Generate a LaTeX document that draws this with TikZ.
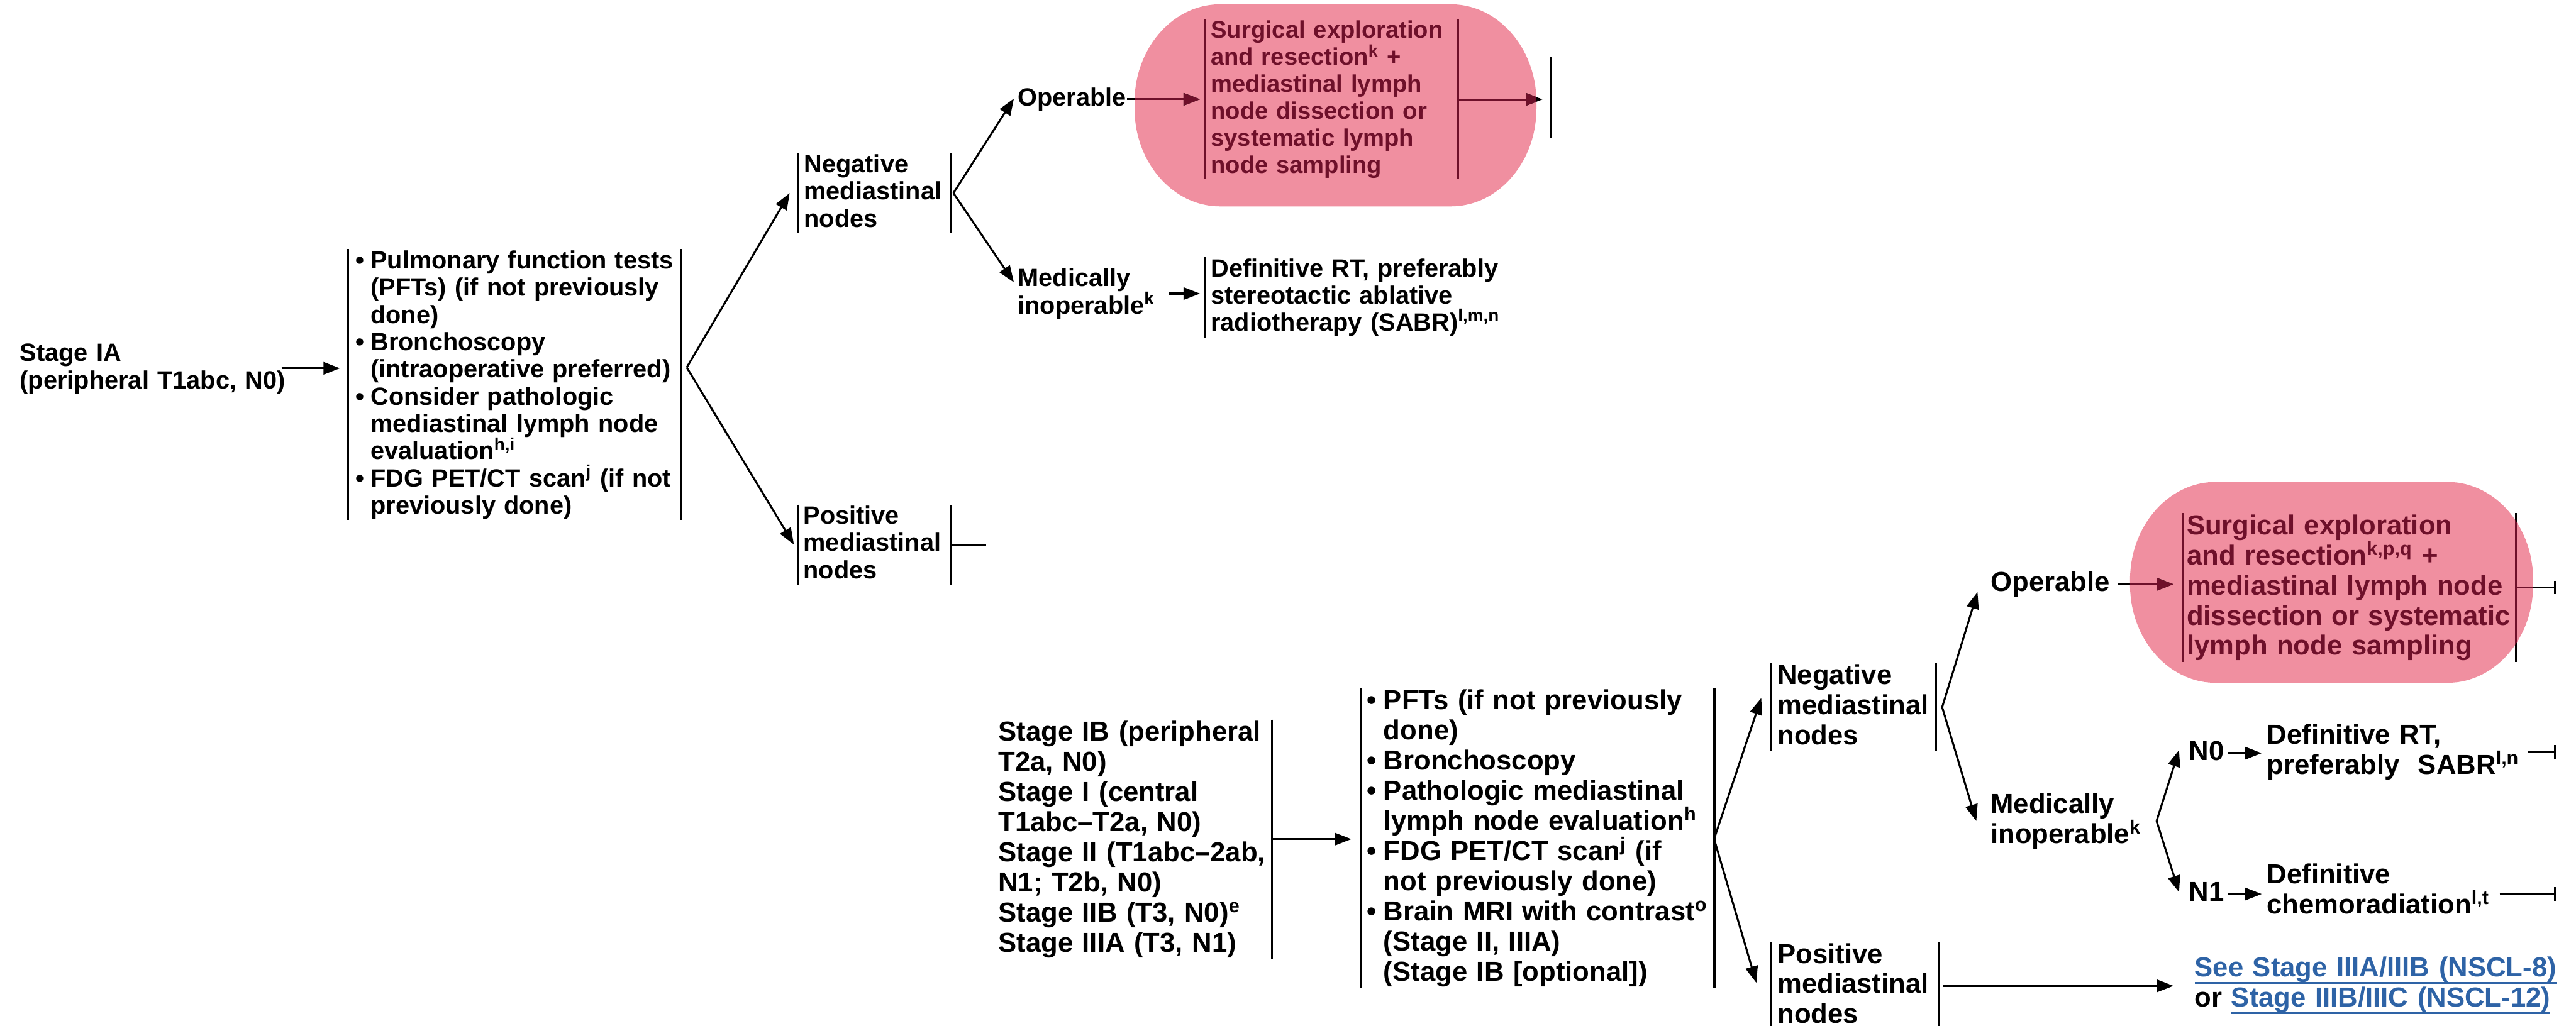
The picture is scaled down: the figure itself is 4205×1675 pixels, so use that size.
\documentclass[tikz,border=0pt]{standalone}
\usepackage{fontspec}
\setmainfont{Liberation Sans}
\usetikzlibrary{arrows.meta,calc}
\definecolor{PillClr}{RGB}{240,143,160}
\definecolor{DarkClr}{RGB}{110,16,42}
\definecolor{LinkClr}{RGB}{46,99,166}
\newcommand{\topsz}{\fontsize{11.6pt}{12.66pt}\selectfont}
\newcommand{\botsz}{\fontsize{12.75pt}{14pt}\selectfont}
\newcommand{\pillsz}{\fontsize{11.15pt}{12.52pt}\selectfont}
\newcommand{\bul}{\makebox[0.6em][l]{\textbullet}}
\newcommand{\ind}{\hspace*{0.6em}}
\newcommand{\lnk}[1]{\setbox0=\hbox{#1}\rlap{\rule[-0.25em]{\wd0}{0.07em}}\box0}
\newcommand{\pill}[4]{(#1+140,#2) -- (#3-140,#2)
  arc[start angle=-90,end angle=0,x radius=140,y radius=160] -- (#3,#4-160)
  arc[start angle=0,end angle=90,x radius=140,y radius=160] -- (#1+140,#4)
  arc[start angle=90,end angle=180,x radius=140,y radius=160] -- (#1,#2+160)
  arc[start angle=180,end angle=270,x radius=140,y radius=160] -- cycle}

\begin{document}
\begin{tikzpicture}[x=0.01cm,y=-0.01cm,line width=0.9pt,
  txt/.style={inner sep=0pt,align=left,anchor=base west,
    execute at begin node={\hyphenpenalty=10000 \rule{0pt}{0.74em}},
    execute at end node={\rule[-0.2em]{0pt}{0pt}}},
  box/.style={txt,anchor=north west,inner xsep=#1},
  topsize/.style={font=\bfseries\topsz},
  botsize/.style={font=\bfseries\botsz},
  arr/.style={-{Triangle[length=0.27cm,width=0.2cm]}},
  tick/.style={-{Bar[width=0.22cm]}}]
\useasboundingbox (0,0) rectangle (4205,1675);

\fill[PillClr] \pill{1852}{7}{2508}{337} \pill{3477}{787}{4135}{1115};

% stage IA
\begin{scope}[topsize]
\node[txt,text width=4.4cm] (stageIA) at (31,590) {Stage IA\\(peripheral T1abc, N0)};
\node[box=0.11cm,text width=5.19cm] (box1) at (568,407) {\bul Pulmonary function tests\\
  \ind(PFTs) (if not previously\\
  \ind done)\\
  \bul Bronchoscopy\\
  \ind(intraoperative preferred)\\
  \bul Consider pathologic\\
  \ind mediastinal lymph node\\
  \ind evaluation\textsuperscript{h,i}\\
  \bul FDG PET/CT scan\textsuperscript{j} (if not\\
  \ind previously done)};
\node[box=0.08cm,text width=2.29cm] (neg1) at (1303,250) {Negative\\mediastinal\\nodes};
\node[box=0.08cm,text width=2.31cm] (pos1) at (1302,824) {Positive\\mediastinal\\nodes};
\node[txt] (op1) at (1660,173) {Operable};
\node[txt,text width=2.45cm] (med1) at (1660,468) {Medically\\inoperable\textsuperscript{k}};
\node[box=0.09cm,text width=3.93cm,font=\bfseries\pillsz,text=DarkClr] (surg1) at (1966,32)
  {Surgical exploration\\and resection\textsuperscript{k} +\\mediastinal lymph\\node dissection or\\systematic lymph\\node sampling};
\node[box=0.09cm,text width=5cm] (def1) at (1966,420)
  {Definitive RT, preferably\\stereotactic ablative\\radiotherapy (SABR)\textsuperscript{l,m,n}};
\end{scope}

\coordinate (f1) at (1121,600);
\coordinate (f2) at ($(neg1.east)+(5,0)$);
\coordinate (cut1) at (2531,159);

\draw[arr,shorten >=0.13cm] ($(stageIA.east)+(-15,0)$) -- (stageIA.east -| box1.west);
\draw[arr] (f1) -- ($(neg1.west)+(-14,0)$);
\draw[arr] (f1) -- ($(pos1.west)+(-6,0)$);
\draw (pos1.east) -- ++(57,0);
\draw[arr] (f2) -- ($(op1.base west)+(-5,-12)$);
\draw[arr] (f2) -- ($(med1.base west)+(-5,-7)$);
\draw[arr,shorten >=0.07cm] (med1.east) -- (med1.east -| def1.west);
\draw[arr,shorten >=0.07cm] (op1.east) -- (op1.east -| surg1.west);
\draw[arr,shorten >=0.13cm] (surg1.east) -- (surg1.east -| cut1);
\draw ($(cut1)+(0,-66)$) -- ($(cut1)+(0,66)$);

% stage IB to IIIA
\begin{scope}[botsize]
\node[box=0.08cm,text width=4.37cm] (ibst) at (1620,1175) {Stage IB (peripheral\\
  T2a, N0)\\
  Stage I (central\\
  T1abc\textendash T2a, N0)\\
  Stage II (T1abc\textendash 2ab,\\
  N1; T2b, N0)\\
  Stage IIB (T3, N0)\textsuperscript{e}\\
  Stage IIIA (T3, N1)};
\node[box=0.09cm,text width=5.56cm] (box2) at (2221,1124) {\bul PFTs (if not previously\\
  \ind done)\\
  \bul Bronchoscopy\\
  \bul Pathologic mediastinal\\
  \ind lymph node evaluation\textsuperscript{h}\\
  \bul FDG PET/CT scan\textsuperscript{j} (if\\
  \ind not previously done)\\
  \bul Brain MRI with contrast\textsuperscript{o}\\
  \ind(Stage II, IIIA)\\
  \ind(Stage IB [optional])};
\node[box=0.1cm,text width=2.47cm] (neg2) at (2890,1083) {Negative\\mediastinal\\nodes};
\node[box=0.1cm,text width=2.51cm] (pos2) at (2890,1538) {Positive\\mediastinal\\nodes};
\node[txt] (op2) at (3248,966) {Operable};
\node[box=0.05cm,text width=5.3cm,text=DarkClr] (surg2) at (3563,838)
  {Surgical exploration\\and resection\textsuperscript{k,p,q} +\\mediastinal lymph node\\dissection or systematic\\lymph node sampling};
\node[txt,text width=2.69cm] (med2) at (3248,1328) {Medically\\inoperable\textsuperscript{k}};
\node[txt] (n0) at (3572,1242) {N0};
\node[txt] (n1) at (3572,1472) {N1};
\node[txt,text width=4.21cm] (def2) at (3699,1215) {Definitive RT,\\preferably\ \ SABR\textsuperscript{l,n}};
\node[txt,text width=3.78cm] (def3) at (3699,1443) {Definitive\\chemoradiation\textsuperscript{l,t}};
\node[txt,text width=6cm,text=LinkClr] (links) at (3581,1595)
  {\lnk{See Stage IIIA/IIIB (NSCL-8)}\\\textcolor{black}{or} \lnk{Stage IIIB/IIIC (NSCL-12)}};
\end{scope}

\coordinate (f3) at (2798,1370);
\coordinate (f4) at ($(neg2.east)+(10,0)$);
\coordinate (rim) at (4172,0);

\draw[arr,shorten >=0.15cm] (ibst.east) -- (ibst.east -| box2.west);
\draw[arr] (f3) -- ($(neg2.west)+(-15,-15)$);
\draw[arr] (f3) -- ($(pos2.west)+(-23,-5)$);
\draw[arr] (f4) -- ($(op2.base west)+(-20,1)$);
\draw[arr] (f4) -- ($(med2.west)+(-22,0)$);
\draw[arr] (med2.east) -- ($(n0.west)+(-15,-5)$);
\draw[arr] (med2.east) -- ($(n1.west)+(-15,-3)$);
\draw[arr,shorten >=0.07cm] ($(n0.east)+(4,0)$) -- (n0.east -| def2.west);
\draw[arr,shorten >=0.07cm] ($(n1.east)+(4,0)$) -- (n1.east -| def3.west);
\draw[tick] ($(def2.east)+(3,0)$) -- (def2.east -| rim);
\draw[tick] (def3.east |- n1.east) -- (rim |- n1.east);
\draw[arr,shorten >=0.33cm] ($(pos2.east)+(8,0)$) -- (pos2.east -| links.west);
\draw[arr,shorten >=0.15cm] ($(op2.east)+(12,0)$) -- (op2.east -| surg2.west);
\draw[tick] (surg2.east) -- (surg2.east -| rim);

% bracket bars
\foreach \n in {box1,neg1,surg1,pos1,box2,neg2,surg2,pos2}
  \draw (\n.north west) -- (\n.south west) (\n.north east) -- (\n.south east);
\draw (def1.north west) -- (def1.south west);
\draw (ibst.north east) -- (ibst.south east);

% dark red where lines run over the pink
\begin{scope}
\clip \pill{1852}{7}{2508}{337} \pill{3477}{787}{4135}{1115};
\begin{scope}[DarkClr]
\foreach \n in {surg1,surg2}
  \draw (\n.north west) -- (\n.south west) (\n.north east) -- (\n.south east);
\draw[arr,shorten >=0.07cm] (op1.east) -- (op1.east -| surg1.west);
\draw[arr,shorten >=0.13cm] (surg1.east) -- (surg1.east -| cut1);
\draw[arr,shorten >=0.15cm] ($(op2.east)+(12,0)$) -- (op2.east -| surg2.west);
\draw (surg2.east) -- (surg2.east -| rim);
\end{scope}
\end{scope}
\end{tikzpicture}
\end{document}
